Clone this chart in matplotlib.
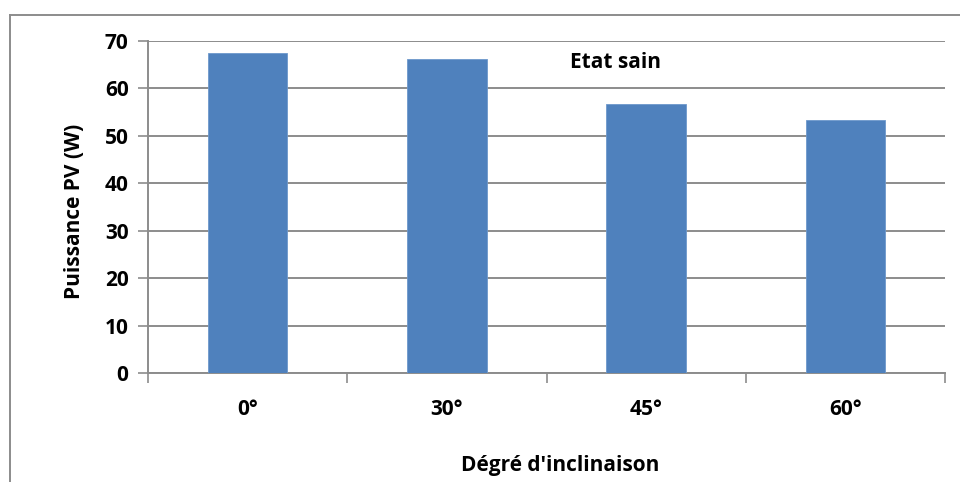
import matplotlib
matplotlib.use("Agg")
import matplotlib.pyplot as plt
from matplotlib.lines import Line2D

categories = ["0°", "30°", "45°", "60°"]
puissance = [67.5, 66.2, 56.7, 53.4]

plt.rcParams['font.family'] = ['Open Sans', 'DejaVu Sans']
plt.rcParams['font.weight'] = 'bold'

W, H = 960, 482
fig = plt.figure(figsize=(9.6, 4.82), dpi=100)
ax = fig.add_axes([148/W, 1-373/H, (945-148)/W, (373-41)/H])

grid_col = '#8c8c8c'
x = range(len(categories))
ax.bar(x, puissance, width=0.4, color='#4f81bd', edgecolor='#6d98cc', linewidth=0.6, zorder=3)

ax.set_xlim(-0.5, 3.5)
ax.set_ylim(0, 70)
ax.set_yticks(range(0, 71, 10))
ax.yaxis.grid(True, color=grid_col, linewidth=1.4)
ax.set_axisbelow(True)

fs = 15
ax.set_xticks([-0.5, 0.5, 1.5, 2.5, 3.5])
ax.set_xticklabels([])
ax.set_xticks(list(x), minor=True)
ax.set_xticklabels(categories, minor=True, fontsize=fs, fontweight='bold')
ax.tick_params(axis='x', which='minor', length=0, pad=19)
ax.tick_params(axis='x', which='major', length=7, width=1.2, color=grid_col, direction='out')
ax.tick_params(axis='y', length=7, width=1.2, color=grid_col, direction='out', labelsize=fs, pad=7)
for lab in ax.get_yticklabels():
    lab.set_fontweight('bold')

for s in ['top', 'right']:
    ax.spines[s].set_visible(False)
for s in ['left', 'bottom']:
    ax.spines[s].set_color(grid_col)
    ax.spines[s].set_linewidth(1.4)

fig.text(74/W, 1-211/H, "Puissance PV (W)", fontsize=fs, fontweight='bold',
         rotation=90, ha='center', va='center')
fig.text(560/W, 1-465/H, "Dégré d'inclinaison", fontsize=fs, fontweight='bold',
         ha='center', va='center')
ax.text(1.62, 65.4, "Etat sain", fontsize=fs, fontweight='bold', va='center', ha='left')

# outer chart border
fig.add_artist(Line2D([9.5/W, 9.5/W], [0, 1-14.5/H], color=grid_col, linewidth=1.4, transform=fig.transFigure))
fig.add_artist(Line2D([9.5/W, 1], [1-14.5/H, 1-14.5/H], color=grid_col, linewidth=1.4, transform=fig.transFigure))

fig.savefig("out.png", dpi=100)
